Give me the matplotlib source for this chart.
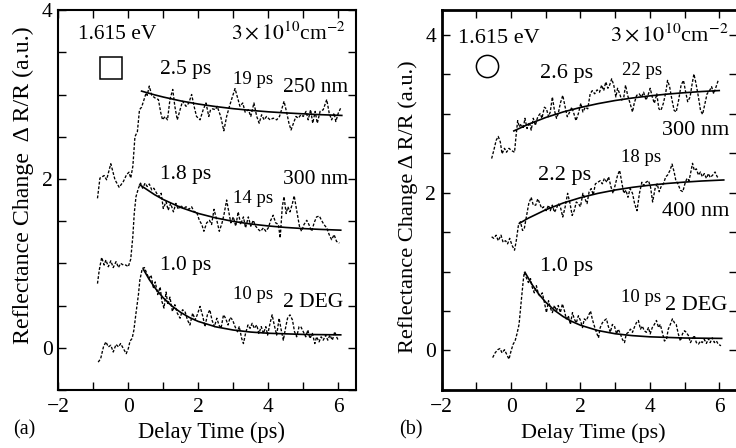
import matplotlib
matplotlib.use('Agg')
import matplotlib.pyplot as plt
from matplotlib.ticker import MultipleLocator

plt.rcParams['font.family'] = ['Liberation Serif', 'DejaVu Serif']
plt.rcParams['mathtext.fontset'] = 'stix'

# ---------------- data: panel (a) ----------------
a_250nm = [(-0.88,1.77),(-0.81,2.01),(-0.69,2.04),(-0.62,1.99),(-0.50,2.18),(-0.38,1.99),(-0.26,1.90),
           (-0.14,1.97),(-0.05,2.05),(0.02,2.08),(0.07,2.01),(0.13,2.15),(0.19,2.50),(0.26,2.56),(0.32,2.82),
           (0.38,2.85),(0.45,2.94),(0.51,3.02),(0.54,2.99),(0.60,3.10),(0.67,2.99),(0.76,2.96),(0.86,2.94),
           (0.93,2.78),(0.98,2.70),(1.05,2.74),(1.12,2.70),(1.19,2.94),(1.27,3.06),(1.33,2.86),(1.40,2.70),
           (1.48,2.82),(1.55,2.92),(1.65,2.86),(1.73,2.90),(1.81,3.00),(1.88,2.86),(1.95,2.74),(2.05,2.70),
           (2.14,2.82),(2.22,2.90),(2.30,2.74),(2.35,2.82),(2.41,2.83),(2.49,2.82),(2.54,2.86),(2.64,2.74),
           (2.73,2.57),(2.81,2.74),(2.89,2.86),(2.98,2.98),(3.05,3.07),(3.11,2.98),(3.19,2.86),(3.27,2.90),
           (3.34,2.79),(3.43,2.82),(3.50,2.74),(3.59,2.90),(3.67,2.74),(3.74,2.66),(3.81,2.76),(3.88,2.70),
           (3.95,2.74),(4.05,2.70),(4.14,2.72),(4.24,2.70),(4.32,2.74),(4.38,2.82),(4.45,2.92),(4.53,2.78),
           (4.59,2.66),(4.65,2.58),(4.72,2.66),(4.79,2.74),(4.86,2.72),(4.93,2.76),(5.00,2.74),(5.08,2.80),
           (5.14,2.70),(5.21,2.82),(5.27,2.66),(5.34,2.80),(5.40,2.66),(5.48,2.80),(5.57,2.82),(5.67,2.94),
           (5.74,2.78),(5.81,2.70),(5.88,2.78),(5.93,2.68),(6.00,2.78),(6.07,2.84)]
a_250nm_fit = [(0.38,3.04),(0.75,2.996),(1.0,2.970),(1.5,2.924),(2.0,2.887),(2.5,2.857),(3.0,2.832),
               (3.5,2.812),(4.0,2.795),(4.5,2.782),(5.0,2.771),(5.5,2.761),(6.1,2.752)]

a_300nm = [(-0.88,0.76),(-0.83,0.92),(-0.76,1.07),(-0.69,0.98),(-0.64,1.04),(-0.57,0.96),(-0.50,1.03),
           (-0.43,0.95),(-0.35,1.02),(-0.28,0.95),(-0.22,1.00),(-0.14,0.98),(-0.07,0.98),(0.00,0.96),
           (0.07,1.05),(0.13,1.32),(0.17,1.59),(0.22,1.79),(0.29,1.89),(0.35,1.95),(0.41,1.89),(0.48,1.95),
           (0.54,1.91),(0.60,1.94),(0.67,1.87),(0.73,1.89),(0.81,1.83),(0.88,1.79),(0.94,1.83),(1.00,1.65),
           (1.08,1.73),(1.14,1.63),(1.21,1.71),(1.29,1.61),(1.36,1.71),(1.43,1.64),(1.50,1.69),(1.57,1.65),
           (1.65,1.67),(1.73,1.64),(1.81,1.67),(1.88,1.61),(1.95,1.61),(2.03,1.51),(2.10,1.46),(2.16,1.38),
           (2.24,1.48),(2.32,1.51),(2.38,1.46),(2.45,1.64),(2.53,1.51),(2.60,1.38),(2.68,1.48),(2.74,1.59),
           (2.81,1.75),(2.88,1.59),(2.93,1.48),(3.00,1.55),(3.07,1.44),(3.14,1.61),(3.21,1.46),(3.29,1.55),
           (3.35,1.42),(3.43,1.55),(3.50,1.44),(3.57,1.51),(3.64,1.44),(3.72,1.40),(3.78,1.38),(3.86,1.42),
           (3.93,1.38),(4.00,1.42),(4.07,1.51),(4.14,1.57),(4.21,1.48),(4.29,1.46),(4.34,1.30),(4.40,1.67),
           (4.45,1.79),(4.51,1.59),(4.56,1.67),(4.62,1.61),(4.69,1.71),(4.74,1.80),(4.81,1.63),(4.89,1.44),
           (4.95,1.38),(5.02,1.46),(5.10,1.51),(5.16,1.46),(5.24,1.38),(5.31,1.48),(5.38,1.55),(5.46,1.56),
           (5.52,1.51),(5.59,1.46),(5.67,1.42),(5.74,1.34),(5.81,1.28),(5.88,1.34),(5.95,1.26),(6.03,1.24)]
a_300nm_fit = [(0.33,1.93),(0.75,1.814),(1.0,1.756),(1.5,1.662),(2.0,1.591),(2.5,1.538),(3.0,1.497),
               (3.5,1.466),(4.0,1.443),(4.5,1.425),(5.0,1.412),(5.5,1.402),(6.07,1.393)]

a_2deg = [(-0.86,-0.17),(-0.79,-0.13),(-0.71,0.01),(-0.64,0.07),(-0.57,0.01),(-0.50,0.03),(-0.43,-0.05),
          (-0.35,0.04),(-0.28,0.01),(-0.22,0.05),(-0.14,-0.01),(-0.06,-0.07),(0.00,-0.01),(0.05,0.08),
          (0.11,0.11),(0.16,0.21),(0.22,0.41),(0.29,0.63),(0.33,0.80),(0.40,0.94),(0.46,0.95),(0.53,0.88),
          (0.59,0.82),(0.65,0.86),(0.72,0.70),(0.77,0.78),(0.84,0.63),(0.91,0.72),(0.96,0.55),(1.02,0.47),
          (1.08,0.66),(1.13,0.51),(1.19,0.60),(1.26,0.43),(1.33,0.51),(1.40,0.41),(1.48,0.35),(1.55,0.45),
          (1.62,0.43),(1.69,0.33),(1.76,0.27),(1.84,0.41),(1.91,0.33),(1.97,0.39),(2.05,0.49),(2.13,0.37),
          (2.19,0.25),(2.26,0.39),(2.33,0.45),(2.39,0.33),(2.46,0.25),(2.53,0.35),(2.59,0.27),(2.65,0.23),
          (2.72,0.39),(2.78,0.35),(2.85,0.27),(2.91,0.36),(2.98,0.33),(3.05,0.25),(3.12,0.19),(3.17,0.25),
          (3.24,0.11),(3.29,0.05),(3.35,0.17),(3.42,0.27),(3.48,0.23),(3.54,0.29),(3.60,0.23),(3.67,0.27),
          (3.73,0.17),(3.80,0.25),(3.86,0.17),(3.93,0.25),(3.98,0.15),(4.05,0.29),(4.11,0.39),(4.17,0.27),
          (4.24,0.15),(4.31,0.35),(4.36,0.23),(4.43,0.09),(4.50,0.25),(4.55,0.35),(4.62,0.39),(4.69,0.33),
          (4.75,0.19),(4.81,0.13),(4.88,0.25),(4.93,0.25),(5.00,0.19),(5.07,0.13),(5.13,0.21),(5.19,0.11),
          (5.26,0.17),(5.33,0.05),(5.38,0.13),(5.45,0.07),(5.51,0.13),(5.57,0.09),(5.64,0.15),(5.70,0.09),
          (5.76,0.15),(5.83,0.09),(5.90,0.19),(5.95,0.13),(6.01,0.08)]
a_2deg_fit = [(0.43,0.93),(0.6,0.808),(0.8,0.689),(1.0,0.591),(1.25,0.493),(1.5,0.418),(1.75,0.358),
              (2.0,0.312),(2.5,0.248),(3.0,0.210),(3.5,0.186),(4.0,0.172),(5.0,0.158),(6.07,0.153)]

# ---------------- data: panel (b) ----------------
b_300nm = [(-0.56,2.43),(-0.50,2.53),(-0.43,2.66),(-0.37,2.71),(-0.31,2.64),(-0.26,2.49),(-0.19,2.56),
           (-0.13,2.51),(-0.06,2.56),(0.02,2.53),(0.10,2.51),(0.14,2.70),(0.19,2.91),(0.24,2.83),(0.29,2.87),
           (0.35,2.81),(0.40,2.94),(0.46,2.81),(0.53,2.89),(0.58,2.79),(0.64,2.94),(0.70,2.85),(0.77,2.96),
           (0.84,3.00),(0.89,2.94),(0.96,3.08),(1.02,3.06),(1.08,2.96),(1.13,3.02),(1.19,3.21),(1.25,3.04),
           (1.31,2.94),(1.36,3.00),(1.42,3.13),(1.49,3.23),(1.56,3.08),(1.62,2.96),(1.69,3.02),(1.75,3.08),
           (1.81,3.00),(1.87,2.91),(1.94,3.00),(2.01,3.13),(2.07,3.02),(2.14,3.08),(2.21,3.06),(2.28,3.25),
           (2.34,3.29),(2.41,3.25),(2.48,3.30),(2.55,3.27),(2.61,3.36),(2.67,3.29),(2.73,3.40),(2.79,3.32),
           (2.84,3.36),(2.90,3.44),(2.96,3.36),(3.02,3.21),(3.07,3.32),(3.13,3.25),(3.19,3.17),(3.25,3.21),
           (3.30,3.36),(3.36,3.23),(3.43,3.13),(3.50,3.02),(3.55,3.13),(3.62,3.23),(3.69,3.25),(3.76,3.21),
           (3.82,3.27),(3.89,3.17),(3.96,3.25),(4.01,3.32),(4.07,3.21),(4.13,3.13),(4.20,3.25),(4.26,3.06),
           (4.32,3.04),(4.39,3.13),(4.46,3.27),(4.51,3.42),(4.57,3.34),(4.63,3.19),(4.70,3.04),(4.76,3.02),
           (4.83,3.17),(4.90,3.36),(4.97,3.42),(5.02,3.30),(5.09,3.15),(5.16,3.21),(5.22,3.38),(5.27,3.50),
           (5.33,3.38),(5.40,3.21),(5.46,3.04),(5.52,2.99),(5.59,3.13),(5.65,3.25),(5.72,3.29),(5.78,3.34),
           (5.84,3.25),(5.91,3.34),(5.97,3.42)]
b_300nm_fit = [(0.08,2.78),(0.5,2.865),(1.0,2.950),(1.5,3.020),(2.0,3.077),(2.5,3.125),(3.0,3.165),
               (3.5,3.197),(4.0,3.224),(4.5,3.246),(5.0,3.264),(5.5,3.279),(6.0,3.291)]

b_400nm = [(-0.56,1.44),(-0.50,1.42),(-0.43,1.46),(-0.37,1.39),(-0.29,1.46),(-0.23,1.37),(-0.16,1.39),
           (-0.10,1.35),(-0.04,1.42),(0.03,1.33),(0.10,1.27),(0.15,1.39),(0.21,1.58),(0.27,1.63),(0.33,1.52),
           (0.38,1.54),(0.44,1.69),(0.51,1.86),(0.58,1.94),(0.64,1.84),(0.71,1.84),(0.77,1.92),(0.83,1.86),
           (0.88,1.80),(0.94,1.82),(1.01,1.77),(1.08,1.84),(1.13,1.77),(1.19,1.84),(1.25,1.75),(1.31,1.80),
           (1.36,1.86),(1.42,1.82),(1.49,1.69),(1.56,1.82),(1.63,1.99),(1.70,1.86),(1.76,1.71),(1.82,1.77),
           (1.88,1.88),(1.94,1.86),(2.00,1.82),(2.07,1.99),(2.13,1.92),(2.19,1.86),(2.25,2.01),(2.31,2.05),
           (2.37,1.97),(2.43,2.11),(2.50,2.13),(2.57,2.15),(2.63,2.11),(2.69,2.18),(2.76,2.13),(2.81,2.20),
           (2.88,2.07),(2.94,1.99),(3.01,2.11),(3.07,2.22),(3.13,2.28),(3.19,2.13),(3.25,1.99),(3.31,2.03),
           (3.37,1.94),(3.43,2.05),(3.50,1.99),(3.56,1.86),(3.63,1.77),(3.70,1.99),(3.77,2.13),(3.82,2.09),
           (3.89,2.13),(3.96,2.15),(4.02,2.07),(4.08,1.88),(4.15,2.05),(4.21,2.11),(4.27,2.01),(4.32,2.07),
           (4.39,2.11),(4.46,2.20),(4.51,2.22),(4.58,2.28),(4.64,2.36),(4.70,2.26),(4.75,2.15),(4.81,2.11),
           (4.88,2.03),(4.95,2.01),(5.01,2.11),(5.07,2.18),(5.13,2.15),(5.19,2.28),(5.23,2.37),(5.28,2.28),
           (5.34,2.30),(5.40,2.22),(5.46,2.26),(5.51,2.20),(5.57,2.24),(5.63,2.18),(5.69,2.24),(5.74,2.19),
           (5.81,2.22),(5.88,2.26),(5.94,2.20),(6.00,2.18)]
b_400nm_fit = [(0.24,1.61),(0.5,1.676),(1.0,1.782),(1.5,1.867),(2.0,1.935),(2.5,1.989),(3.0,2.032),
               (3.5,2.066),(4.0,2.093),(4.5,2.115),(5.0,2.132),(5.5,2.146),(6.13,2.159)]

b_2deg = [(-0.53,-0.09),(-0.46,-0.03),(-0.385,0.01),(-0.32,0.025),(-0.26,-0.03),(-0.19,0.01),(-0.125,-0.05),
          (-0.06,-0.11),(0.00,-0.005),(0.06,0.08),(0.115,0.12),(0.17,0.21),(0.23,0.33),(0.29,0.61),(0.35,0.88),
          (0.38,0.99),(0.44,0.92),(0.50,0.86),(0.56,0.91),(0.61,0.80),(0.67,0.73),(0.73,0.82),(0.79,0.71),
          (0.84,0.69),(0.90,0.73),(0.96,0.61),(1.02,0.48),(1.08,0.63),(1.13,0.54),(1.19,0.48),(1.25,0.57),
          (1.31,0.50),(1.36,0.57),(1.42,0.48),(1.48,0.59),(1.54,0.50),(1.59,0.40),(1.65,0.44),(1.71,0.33),
          (1.77,0.48),(1.82,0.40),(1.88,0.35),(1.94,0.44),(2.00,0.38),(2.06,0.29),(2.11,0.40),(2.17,0.38),
          (2.23,0.44),(2.29,0.50),(2.34,0.40),(2.40,0.31),(2.46,0.23),(2.52,0.16),(2.57,0.29),(2.63,0.35),
          (2.69,0.38),(2.75,0.40),(2.80,0.31),(2.86,0.23),(2.92,0.33),(2.98,0.31),(3.04,0.21),(3.09,0.27),
          (3.15,0.21),(3.21,0.14),(3.27,0.10),(3.32,0.21),(3.38,0.23),(3.44,0.27),(3.50,0.23),(3.55,0.29),
          (3.61,0.35),(3.67,0.38),(3.73,0.27),(3.78,0.31),(3.84,0.25),(3.90,0.23),(3.96,0.29),(4.01,0.21),
          (4.07,0.29),(4.13,0.33),(4.19,0.38),(4.25,0.29),(4.30,0.33),(4.36,0.23),(4.42,0.12),(4.48,0.14),
          (4.53,0.27),(4.59,0.33),(4.65,0.40),(4.71,0.35),(4.76,0.33),(4.82,0.21),(4.88,0.12),(4.94,0.21),
          (5.00,0.25),(5.05,0.23),(5.11,0.19),(5.17,0.10),(5.22,0.14),(5.28,0.19),(5.34,0.10),(5.40,0.08),
          (5.46,0.12),(5.51,0.10),(5.57,0.14),(5.63,0.09),(5.69,0.15),(5.74,0.10),(5.80,0.16),(5.86,0.10),
          (5.92,0.12),(5.97,0.08),(6.05,0.06)]
b_2deg_fit = [(0.40,0.99),(0.6,0.838),(0.8,0.713),(1.0,0.611),(1.25,0.509),(1.5,0.430),(1.75,0.368),
              (2.0,0.320),(2.5,0.253),(3.0,0.212),(3.5,0.188),(4.0,0.173),(5.0,0.158),(6.07,0.153)]

x_ticks = [-2, 0, 2, 4, 6]
y_ticks = [0, 2, 4]

# ---------------- figure ----------------
fig = plt.figure(figsize=(7.36, 4.48), dpi=100)
axA = fig.add_axes([0.0792, 0.1295, 0.4042, 0.848])
axB = fig.add_axes([0.6001, 0.1295, 0.4007, 0.848])

DASH = dict(color='black', lw=0.95, linestyle=(0, (2.2, 1.3)))
FIT = dict(color='black', lw=1.2)

def xy(pairs):
    return [p[0] for p in pairs], [p[1] for p in pairs]

def style(ax, ylim, lw):
    ax.set_xlim(-2, 6.5)
    ax.set_ylim(*ylim)
    ax.set_xticks(x_ticks)
    ax.set_yticks(y_ticks)
    ax.xaxis.set_minor_locator(MultipleLocator(1))
    ax.yaxis.set_minor_locator(MultipleLocator(0.5))
    ax.tick_params(which='both', direction='in', top=True, right=True, length=6, width=1,
                   labelsize=15.5)
    ax.tick_params(axis='x', pad=6)
    ax.tick_params(axis='y', pad=4)
    for s in ax.spines.values():
        s.set_linewidth(lw)

for data, fit in [(a_250nm, a_250nm_fit), (a_300nm, a_300nm_fit), (a_2deg, a_2deg_fit)]:
    axA.plot(*xy(data), **DASH)
    axA.plot(*xy(fit), **FIT)
for data, fit in [(b_300nm, b_300nm_fit), (b_400nm, b_400nm_fit), (b_2deg, b_2deg_fit)]:
    axB.plot(*xy(data), **DASH)
    axB.plot(*xy(fit), **FIT)

style(axA, (-0.5, 4.0), 1.5)
style(axB, (-0.5, 4.31), 2.0)

BIG_A, BIG_B = 15.5, 16
SMALL_A, SMALL_B = 13.5, 13.5
# panel (a) texts
axA.text(-1.44, 3.71, '1.615 eV', fontsize=BIG_A, va='center', ha='left')
axA.text(6.2, 3.73, r'$3\times10^{10}$cm$^{-2}$', fontsize=BIG_A, va='center', ha='right')
axA.plot([-0.48], [3.31], marker='s', ms=16, mfc='none', mec='black', mew=1.1)
axA.text(0.91, 3.30, '2.5 ps', fontsize=BIG_A, va='center', ha='left')
axA.text(3.0, 3.18, '19 ps', fontsize=SMALL_A, va='center', ha='left')
axA.text(6.28, 3.08, '250 nm', fontsize=BIG_A, va='center', ha='right')
axA.text(0.91, 2.05, '1.8 ps', fontsize=BIG_A, va='center', ha='left')
axA.text(3.0, 1.77, '14 ps', fontsize=SMALL_A, va='center', ha='left')
axA.text(6.28, 1.99, '300 nm', fontsize=BIG_A, va='center', ha='right')
axA.text(0.91, 0.98, '1.0 ps', fontsize=BIG_A, va='center', ha='left')
axA.text(3.0, 0.63, '10 ps', fontsize=SMALL_A, va='center', ha='left')
axA.text(6.13, 0.54, '2 DEG', fontsize=BIG_A, va='center', ha='right')

# panel (b) texts
axB.text(-1.52, 3.95, '1.615 eV', fontsize=BIG_B, va='center', ha='left')
axB.text(6.27, 3.99, r'$3\times10^{10}$cm$^{-2}$', fontsize=BIG_B, va='center', ha='right')
axB.plot([-0.68], [3.60], marker='o', ms=16, mfc='none', mec='black', mew=1.1)
axB.text(0.84, 3.51, '2.6 ps', fontsize=BIG_B, va='center', ha='left')
axB.text(3.2, 3.55, '22 ps', fontsize=SMALL_B, va='center', ha='left')
axB.text(6.29, 2.78, '300 nm', fontsize=BIG_B, va='center', ha='right')
axB.text(0.79, 2.22, '2.2 ps', fontsize=BIG_B, va='center', ha='left')
axB.text(3.18, 2.44, '18 ps', fontsize=SMALL_B, va='center', ha='left')
axB.text(6.29, 1.76, '400 nm', fontsize=BIG_B, va='center', ha='right')
axB.text(0.84, 1.06, '1.0 ps', fontsize=BIG_B, va='center', ha='left')
axB.text(3.18, 0.67, '10 ps', fontsize=SMALL_B, va='center', ha='left')
axB.text(6.24, 0.57, '2 DEG', fontsize=BIG_B, va='center', ha='right')

# axis labels
ylabA = fig.text(23/736, 0.586, 'Reflectance Change  \u0394 R/R (a.u.)', rotation=90, fontsize=16,
                 ha='center', va='center')
ylabB = fig.text(408/736, 0.539, 'Reflectance Change \u0394 R/R (a.u.)', rotation=90, fontsize=16,
                 ha='center', va='center')
xlabA = fig.text(211.5/736, 1 - 432/448, 'Delay Time (ps)', fontsize=16.5, ha='center', va='center')
xlabB = fig.text(593.5/736, 1 - 433/448, 'Delay Time (ps)', fontsize=16.5, ha='center', va='center')
fig.text(13/736, 1 - 430/448, '(a)', fontsize=14.5, ha='left', va='center')
fig.text(399/736, 1 - 430/448, '(b)', fontsize=14.5, ha='left', va='center')

fig.canvas.draw()
renderer = fig.canvas.get_renderer()
# tune label font sizes so the label lengths match the reference
for t, target, vertical in [(ylabA, 318, True), (ylabB, 293, True), (xlabA, 147, False), (xlabB, 145, False)]:
    bb = t.get_window_extent(renderer)
    cur = bb.height if vertical else bb.width
    t.set_fontsize(t.get_fontsize() * target / cur)

fig.savefig('out.png', dpi=100)
